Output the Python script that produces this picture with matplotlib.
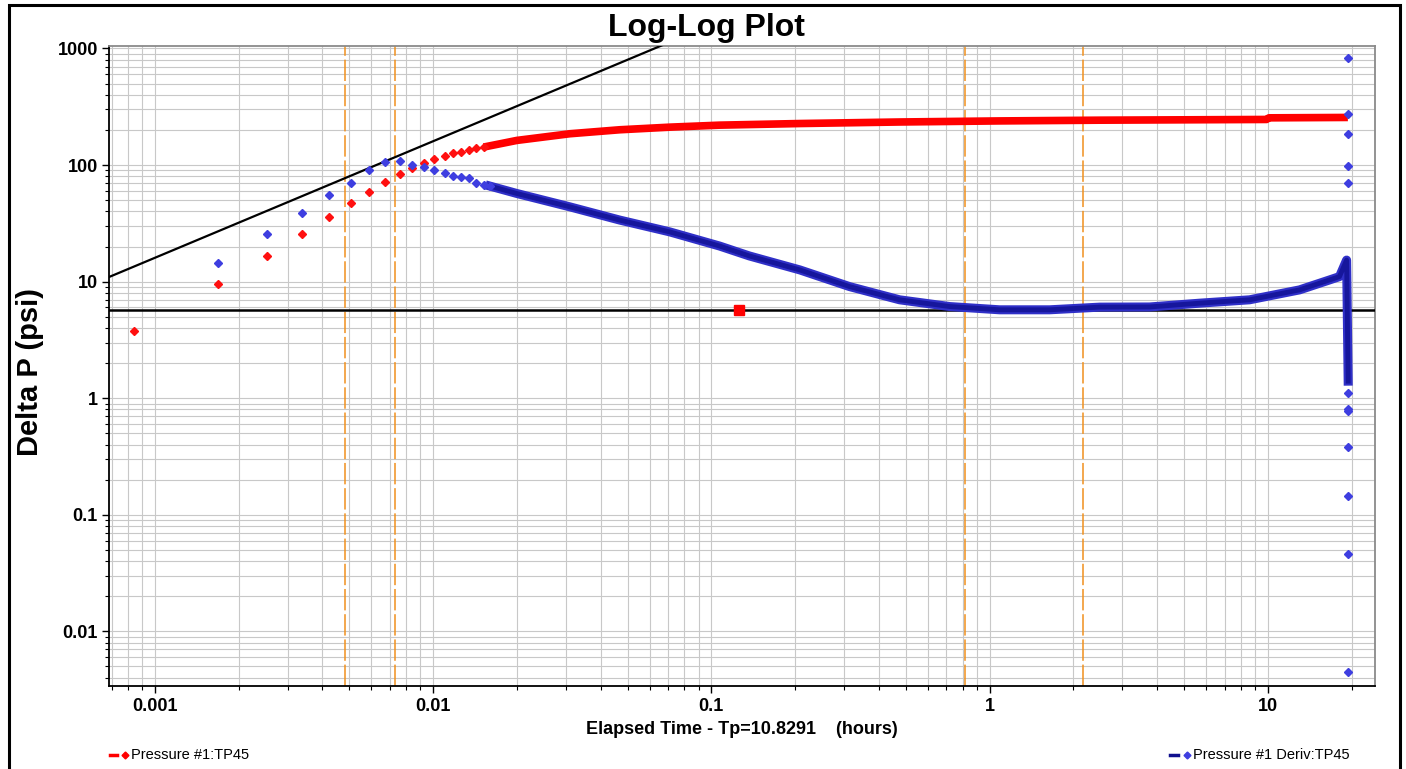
import matplotlib.pyplot as plt
from matplotlib.lines import Line2D
from matplotlib.patches import Rectangle
from matplotlib.ticker import FixedLocator, LogLocator, NullFormatter

plt.rcParams['font.family'] = ['Liberation Sans', 'DejaVu Sans']

# first readings after shut-in, drawn one marker each
t_early = [0.00084, 0.00168, 0.00253, 0.00337, 0.00421, 0.00506, 0.0059, 0.00674, 0.00758,
           0.00843, 0.00927, 0.0101, 0.0110, 0.0118, 0.0126, 0.0135, 0.0143, 0.0152]
dp_early = [3.77, 9.55, 16.7, 25.4, 35.7, 47.1, 58.8, 71.6, 84.4,
            95.0, 104.8, 113.4, 120.3, 125.9, 130.2, 135.4, 140.8, 142.6]

td_early = [0.00168, 0.00253, 0.00337, 0.00421, 0.00506, 0.0059, 0.00674, 0.00758, 0.00843,
            0.00927, 0.0101, 0.0110, 0.0118, 0.0126, 0.0135, 0.0143, 0.0152, 0.0160]
deriv_early = [14.4, 25.6, 38.9, 54.8, 70.7, 90.1, 105.5, 107.6, 100.8,
               95.6, 90.6, 84.9, 80.0, 78.5, 76.9, 70.7, 67.1, 66.7]

# later readings are so dense they draw as a solid band
t_band = [0.0152, 0.0200, 0.0310, 0.0469, 0.0709, 0.107, 0.208, 0.475, 1.087, 2.49, 9.9, 10.1, 19.4]
dp_band = [142.6, 162.6, 185.5, 200.7, 211.3, 219.8, 227.0, 234.0, 239.0, 242.5, 246.0, 254.0, 256.0]

td_band = [0.0160, 0.0200, 0.0310, 0.0469, 0.0709, 0.107, 0.137, 0.208, 0.314, 0.475, 0.719,
           1.087, 1.644, 2.49, 3.76, 5.69, 8.60, 13.0, 16.7, 18.1, 19.2, 19.45]
deriv_band = [66.0, 57.0, 43.8, 33.7, 26.7, 20.2, 16.6, 12.6, 9.06, 6.98, 6.11,
              5.73, 5.73, 6.04, 6.06, 6.53, 6.98, 8.49, 10.35, 11.04, 15.3, 1.4]

# scattered derivative points at the end of the test
t_tail = [19.45] * 12
deriv_tail = [822, 275, 185, 98, 69.8, 1.10, 0.80, 0.78, 0.381, 0.1435, 0.0461, 0.0045]

# analysis lines
storage_coef = 16000.0          # unit-slope line dp = C * t
radial_dp = 5.73                # radial flow stabilisation
radial_pick = (0.126, 5.73)
marker_times = [0.00481, 0.00731, 0.813, 2.16]

fig = plt.figure(figsize=(14.06, 7.69), dpi=100)
ax = fig.add_axes([0.0775, 0.108, 0.9005, 0.8322])
ax.set_xscale('log')
ax.set_yscale('log')
ax.set_xlim(0.000684, 24.3)
ax.set_ylim(0.0034, 1050)

ax.grid(True, which='both', color='#c8c8c8', lw=0.8, zorder=0)
ax.set_axisbelow(True)

for t in marker_times:
    ax.axvline(t, color='#f0901e', lw=1.1, dashes=(14, 2.5), zorder=2)

ax.plot([0.0006, 0.1], [storage_coef * 0.0006, storage_coef * 0.1], color='black', lw=1.6, zorder=3)
ax.axhline(radial_dp, color='black', lw=1.8, zorder=3)

ax.plot(t_band, dp_band, color='#ff0000', lw=5.5, solid_capstyle='butt', zorder=4)
ax.plot(t_early, dp_early, ls='none', marker='D', ms=4, color='#ff1010', zorder=4)

ax.plot(td_band, deriv_band, color='#3030c8', lw=6.5, solid_joinstyle='round', zorder=5)
ax.plot(td_band, deriv_band, color='#16169c', lw=3.5, zorder=5)
ax.plot(td_early, deriv_early, ls='none', marker='D', ms=4, color='#3e3ee0', zorder=5)
ax.plot(t_tail, deriv_tail, ls='none', marker='D', ms=4, color='#3e3ee0', zorder=5)

ax.plot(*radial_pick, marker='s', ms=7, color='#ff0000', zorder=6)

for side in ['top', 'right']:
    ax.spines[side].set_color('#8a8a8a')
    ax.spines[side].set_linewidth(1.3)
for side in ['left', 'bottom']:
    ax.spines[side].set_color('black')
    ax.spines[side].set_linewidth(1.3)

xt = [0.001, 0.01, 0.1, 1, 10]
yt = [0.01, 0.1, 1, 10, 100, 1000]
ax.xaxis.set_major_locator(FixedLocator(xt))
ax.yaxis.set_major_locator(FixedLocator(yt))
ax.xaxis.set_minor_locator(LogLocator(base=10, subs=range(2, 10), numticks=20))
ax.yaxis.set_minor_locator(LogLocator(base=10, subs=range(2, 10), numticks=20))
ax.xaxis.set_minor_formatter(NullFormatter())
ax.yaxis.set_minor_formatter(NullFormatter())
ax.set_xticklabels(['0.001', '0.01', '0.1', '1', '10'])
ax.set_yticklabels(['0.01', '0.1', '1', '10', '100', '1000'])
ax.tick_params(which='major', length=5, width=1, labelsize=13)
ax.tick_params(axis='y', which='major', pad=3)
ax.tick_params(axis='x', which='major', pad=4)
ax.tick_params(which='minor', length=3, width=0.8)
for lab in ax.get_xticklabels() + ax.get_yticklabels():
    lab.set_fontweight('bold')

fig.text(706 / 1406, 1 - 36 / 769, 'Log-Log Plot', ha='center', va='baseline', fontsize=23,
         fontweight='bold')
fig.text(742 / 1406, 1 - 730 / 769, 'Elapsed Time - Tp=10.8291    (hours)', ha='center', va='center',
         fontsize=13, fontweight='bold')
fig.text(30 / 1406, 1 - 372 / 769, 'Delta P (psi)', ha='center', va='center', rotation=90,
         fontsize=21, fontweight='bold')

# legend entries along the bottom edge
ly = 1 - 755 / 769
fig.add_artist(Line2D([110 / 1406, 117 / 1406], [ly, ly], color='#ff0000', lw=2.5))
fig.add_artist(Line2D([125 / 1406], [ly], marker='D', ms=3.5, color='#ff0000'))
fig.text(131 / 1406, ly, 'Pressure #1:TP45', va='center', fontsize=10.5)
fig.add_artist(Line2D([1170 / 1406, 1178 / 1406], [ly, ly], color='#10108e', lw=2.5))
fig.add_artist(Line2D([1187 / 1406], [ly], marker='D', ms=3.5, color='#3e3ee0'))
fig.text(1193 / 1406, ly, 'Pressure #1 Deriv:TP45', va='center', fontsize=10.5)

fig.add_artist(Rectangle((8.5 / 1406, -0.05), 1391 / 1406, 1.05 - 4.5 / 769, fill=False,
                         edgecolor='black', lw=2.2, transform=fig.transFigure))

fig.savefig('out.png', dpi=100)
